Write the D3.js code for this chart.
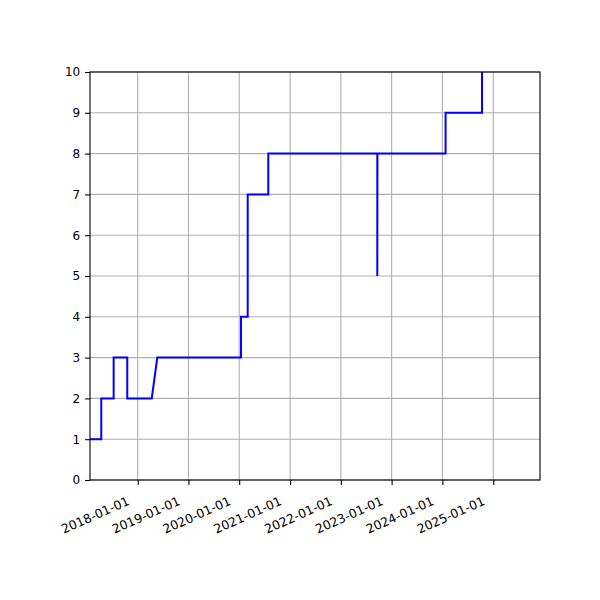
<!DOCTYPE html>
<html>
<head>
<meta charset="utf-8">
<script src="https://cdn.jsdelivr.net/npm/d3@7"></script>
<style>
  body { margin: 0; background: #fff; }
  text { font-family: "DejaVu Sans", sans-serif; font-size: 12px; fill: #000; }
</style>
</head>
<body>
<script>
// step points (date, level)
var dates = ['2017-01-23', '2017-04-14', '2017-04-14', '2017-07-12', '2017-07-12',
             '2017-10-18', '2017-10-18', '2018-04-12', '2018-05-22', '2020-01-14',
             '2020-01-14', '2020-03-02', '2020-03-02', '2020-07-28', '2020-07-28',
             '2022-09-20', '2022-09-20', '2022-09-21', '2024-01-24', '2024-01-24',
             '2024-10-12', '2024-10-12'];
var levels = [1, 1, 2, 2, 3,
              3, 2, 2, 3, 3,
              4, 4, 7, 7, 8,
              8, 5, 8, 8, 9,
              9, 10];
var xLimits = ['2017-01-23', '2025-12-03'];
var yLimits = [0, 10];
var xTicks = ['2018-01-01', '2019-01-01', '2020-01-01', '2021-01-01',
              '2022-01-01', '2023-01-01', '2024-01-01', '2025-01-01'];
var yTicks = [0, 1, 2, 3, 4, 5, 6, 7, 8, 9, 10];

var parse = d3.timeParse('%Y-%m-%d');
var fmt = d3.timeFormat('%Y-%m-%d');
var data = dates.map(function(d, i){ return {date: parse(d), value: levels[i]}; });

var screen = { width: 600, height: 600 };
var margins = { top: 72, bottom: 120, left: 90, right: 60 };
var tick_len = 4.9;
var font_size = 12;

var xScale = d3.scaleTime()
               .domain(xLimits.map(parse))
               .range([margins.left, screen.width - margins.right]);
var yScale = d3.scaleLinear()
               .domain(yLimits)
               .range([screen.height - margins.bottom, margins.top]);

var svg = d3.select('body').append('svg')
            .attr('width', screen.width)
            .attr('height', screen.height);

var x0 = margins.left, x1 = screen.width - margins.right;
var y0 = screen.height - margins.bottom, y1 = margins.top;

// grid
svg.append('g')
   .selectAll('line')
   .data(xTicks.map(parse))
   .enter()
   .append('line')
   .attr('x1', function(d){ return xScale(d); })
   .attr('x2', function(d){ return xScale(d); })
   .attr('y1', y0).attr('y2', y1)
   .attr('stroke', '#b0b0b0').attr('stroke-width', 1.1);
svg.append('g')
   .selectAll('line')
   .data(yTicks)
   .enter()
   .append('line')
   .attr('y1', function(d){ return yScale(d); })
   .attr('y2', function(d){ return yScale(d); })
   .attr('x1', x0).attr('x2', x1)
   .attr('stroke', '#b0b0b0').attr('stroke-width', 1.1);

// line
var line = d3.line()
             .x(function(d){ return xScale(d.date); })
             .y(function(d){ return yScale(d.value); });
svg.append('defs').append('clipPath').attr('id', 'clip')
   .append('rect').attr('x', x0).attr('y', y1).attr('width', x1 - x0).attr('height', y0 - y1);
svg.append('path')
   .datum(data)
   .attr('d', line)
   .attr('fill', 'none')
   .attr('stroke', '#0000ff')
   .attr('stroke-width', 2)
   .attr('stroke-linejoin', 'miter')
   .attr('clip-path', 'url(#clip)');

// axes
var xAxis = d3.axisBottom(xScale)
              .tickValues(xTicks.map(parse))
              .tickFormat(fmt)
              .tickSize(tick_len)
              .tickPadding(tick_len);
var yAxis = d3.axisLeft(yScale)
              .tickValues(yTicks)
              .tickSize(tick_len)
              .tickPadding(tick_len);

var gx = svg.append('g')
            .attr('transform', 'translate(0,' + y0 + ')')
            .call(xAxis);
gx.select('.domain').remove();
gx.selectAll('line').attr('stroke-width', 1.1);
// labels slanted, right end just left of the tick
gx.selectAll('text')
  .attr('text-anchor', 'end')
  .attr('x', 0)
  .attr('y', 0)
  .attr('dy', 0)
  .attr('transform', 'translate(-8,24.3) rotate(-24)')
  .style('font-size', '12.5px')
  .style('font-family', '"DejaVu Sans", sans-serif');

var gy = svg.append('g')
            .attr('transform', 'translate(' + x0 + ',0)')
            .call(yAxis);
gy.select('.domain').remove();
gy.selectAll('line').attr('stroke-width', 1.1);
gy.selectAll('text')
  .style('font-size', font_size + 'px')
  .style('font-family', '"DejaVu Sans", sans-serif');

// frame
svg.append('rect')
   .attr('x', x0).attr('y', y1)
   .attr('width', x1 - x0).attr('height', y0 - y1)
   .attr('fill', 'none')
   .attr('stroke', '#000')
   .attr('stroke-width', 1.1);
</script>
</body>
</html>
